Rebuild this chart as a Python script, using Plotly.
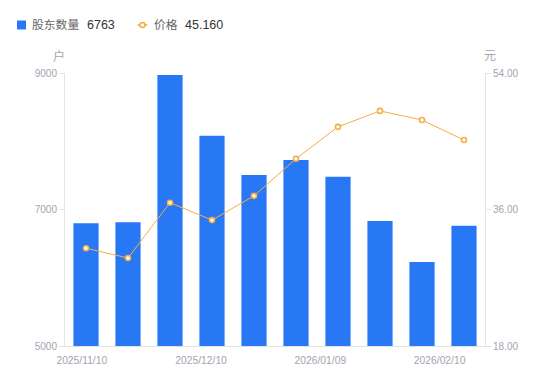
import plotly.graph_objects as go

dates = ["2025/11/10", "2025/11/20", "2025/11/30", "2025/12/10", "2025/12/20",
         "2025/12/31", "2026/01/09", "2026/01/20", "2026/01/31", "2026/02/10"]
holders = [6800, 6815, 8970, 8080, 7505, 7725, 7480, 6830, 6230, 6763]
prices = [30.9, 29.6, 36.9, 34.6, 37.8, 42.7, 46.9, 49.0, 47.8, 45.16]

y_left_ticks = [5000, 7000, 9000]
y_right_ticks = [18, 36, 54]
x_label_dates = ["2025/11/10", "2025/12/10", "2026/01/09", "2026/02/10"]
x_label_pos = [-0.1, 2.74, 5.58, 8.42]

idx = list(range(len(dates)))
FONT = "Liberation Sans, Arial, Noto Sans CJK SC, sans-serif"
BLUE = "#2878f5"
ORANGE = "#f5ae42"
AX = "#e3e3e8"
TICKC = "#a3a3b0"

W, H = 550, 381
OFF = 8  # page body margin
L, R, T, B = 57, 73, 65, 43
PW, PH = W - L - R, H - T - B


def px(x):
    return (x - OFF - L) / PW


def py(y):
    return (H - B - (y - OFF)) / PH


fig = go.Figure()
fig.add_trace(go.Bar(
    x=idx, y=holders, width=0.6, marker=dict(color=BLUE, line=dict(width=0)),
    name="股东数量", customdata=dates,
    hovertemplate="%{customdata}<br>%{y}<extra></extra>",
))
fig.add_trace(go.Scatter(
    x=idx, y=prices, yaxis="y2", mode="lines+markers",
    line=dict(color=ORANGE, width=1),
    marker=dict(size=5, color="white", line=dict(color=ORANGE, width=1.6)),
    name="价格", customdata=dates,
    hovertemplate="%{customdata}<br>%{y}<extra></extra>",
))

ann = [
    dict(text="户", x=px(59), y=py(56)),
    dict(text="元", x=px(490), y=py(56)),
]
annotations = [dict(a, xref="paper", yref="paper", showarrow=False,
                    xanchor="center", yanchor="middle",
                    font=dict(size=12, color=TICKC)) for a in ann]

legend_texts = [
    ("股东数量", 30, "#666666", 11.8),
    ("%d" % holders[-1], 84.5, "#333333", 12.5),
    ("价格", 152, "#666666", 11.8),
    ("%.3f" % prices[-1], 182.5, "#333333", 12.5),
]
for t, x, c, s in legend_texts:
    annotations.append(dict(text=t, x=px(x), y=py(25), xref="paper", yref="paper",
                            showarrow=False, xanchor="left", yanchor="middle",
                            font=dict(size=s, color=c)))

shapes = [
    dict(type="rect", xref="paper", yref="paper", x0=px(17), x1=px(26),
         y0=py(29.5), y1=py(20.5), fillcolor=BLUE, line=dict(width=0)),
    dict(type="line", xref="paper", yref="paper", x0=px(137.5), x1=px(147.5),
         y0=py(25), y1=py(25), line=dict(color=ORANGE, width=1.6)),
    dict(type="circle", xref="paper", yref="paper", x0=px(140), x1=px(145),
         y0=py(27.5), y1=py(22.5), fillcolor="white",
         line=dict(color=ORANGE, width=1.6)),
]

fig.update_layout(
    width=W, height=H,
    margin=dict(l=L, r=R, t=T, b=B, autoexpand=False),
    paper_bgcolor="white", plot_bgcolor="white",
    font=dict(family=FONT, size=10, color=TICKC),
    showlegend=False,
    xaxis=dict(range=[-0.5, len(dates) - 0.5], tickmode="array",
               tickvals=x_label_pos, ticktext=x_label_dates,
               showgrid=False, zeroline=False, showline=True, linecolor=AX,
               ticks="outside", ticklen=5, tickcolor="rgba(0,0,0,0)",
               tickfont=dict(size=10.3, color=TICKC), automargin=False),
    yaxis=dict(range=[5000, 9000], tickmode="array", tickvals=y_left_ticks,
               showgrid=False, zeroline=False, showline=True, linecolor=AX,
               ticks="outside", ticklen=5, tickcolor=AX, automargin=False,
               tickfont=dict(size=10, color=TICKC)),
    yaxis2=dict(range=[18, 54], tickmode="array", tickvals=y_right_ticks,
                tickformat=".2f", overlaying="y", side="right",
                showgrid=False, zeroline=False, showline=True, linecolor=AX,
                ticks="outside", ticklen=5, tickcolor=AX, automargin=False,
                tickfont=dict(size=10, color=TICKC)),
    annotations=annotations,
    shapes=shapes,
)
fig.write_html("out.html")
